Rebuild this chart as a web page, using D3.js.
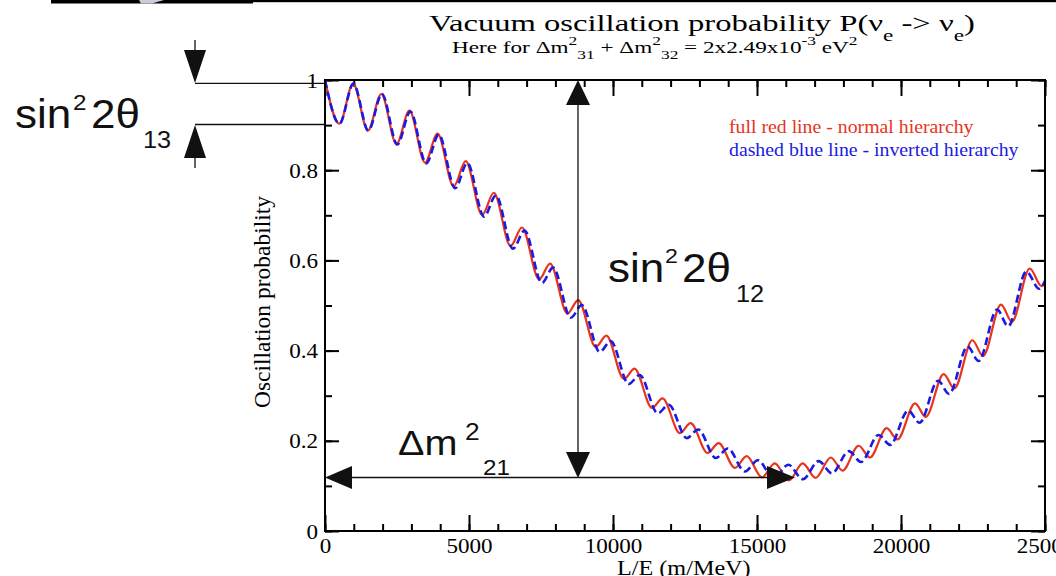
<!DOCTYPE html>
<html>
<head>
<meta charset="utf-8">
<title>Vacuum oscillation probability</title>
<script src="https://d3js.org/d3.v7.min.js"></script>
<style>
  body { margin: 0; background: #fff; }
  svg { display: block; }
</style>
</head>
<body>
<div id="chart"></div>
<script>
// turning points of the curves (L/E in m/MeV, probability)
const nhL = [0, 497, 977, 1490, 1954, 2482, 2931, 3473, 3908, 4466, 4885, 5457, 5861, 6444, 6839, 7433, 7816, 8418, 8792, 9400,
  9769, 10381, 10745, 11356, 11720, 12324, 12694, 13285, 13669, 14235, 14643, 15173, 15615, 16107, 16587, 17034, 17561, 17971,
  18530, 18919, 19504, 19875, 20488, 20859, 21482, 21852, 22477, 22850, 23472, 23852, 24469, 24880, 25000];
const nhP = [1.000, 0.903, 0.992, 0.888, 0.969, 0.858, 0.932, 0.817, 0.881, 0.764, 0.820, 0.701, 0.750, 0.632, 0.673, 0.558, 0.593,
  0.482, 0.512, 0.408, 0.433, 0.337, 0.360, 0.273, 0.294, 0.217, 0.239, 0.173, 0.195, 0.140, 0.166, 0.119, 0.150, 0.112, 0.150,
  0.118, 0.163, 0.134, 0.189, 0.163, 0.228, 0.203, 0.283, 0.253, 0.348, 0.316, 0.423, 0.388, 0.502, 0.464, 0.582, 0.543, 0.550];

const ihL = [0, 502, 988, 1506, 1977, 2511, 2965, 3514, 3953, 4518, 4943, 5522, 5934, 6525, 6928, 7531, 7922, 8534, 8919, 9540,
  9920, 10546, 10925, 11554, 11936, 12562, 12958, 13570, 13988, 14576, 15033, 15582, 16086, 16592, 17142, 17602, 18187, 18614,
  19221, 19623, 20250, 20645, 21284, 21672, 22311, 22698, 23333, 23722, 24351, 24800, 25000];
const ihP = [1.000, 0.903, 0.992, 0.888, 0.969, 0.857, 0.930, 0.815, 0.879, 0.760, 0.816, 0.697, 0.744, 0.626, 0.666, 0.550, 0.584,
  0.473, 0.501, 0.397, 0.421, 0.326, 0.346, 0.261, 0.280, 0.206, 0.225, 0.162, 0.183, 0.132, 0.157, 0.116, 0.147, 0.115, 0.155,
  0.128, 0.177, 0.153, 0.213, 0.191, 0.267, 0.240, 0.333, 0.304, 0.409, 0.377, 0.491, 0.454, 0.575, 0.537, 0.555];

const xTicks = [0, 5000, 10000, 15000, 20000, 25000];
const xTickLabels = ["0", "5000", "10000", "15000", "20000", "25000"];
const yTicks = [0, 0.2, 0.4, 0.6, 0.8, 1];
const yTickLabels = ["0", "0.2", "0.4", "0.6", "0.8", "1"];

const W = 1056, H = 576;
const box = { left: 325, right: 1045, top: 80, bottom: 531 };
const serif = "'Liberation Serif', 'Times New Roman', serif";
const sans = "'Liberation Sans', Arial, sans-serif";
const sx = 1.1; // the plot picture is stretched sideways

const svg = d3.select("#chart").append("svg")
    .attr("width", W)
    .attr("height", H);

const x = d3.scaleLinear().domain([0, 25000]).range([box.left, box.right]);
const y = d3.scaleLinear().domain([0, 1]).range([box.bottom, box.top]);

// black strip at the very top
svg.append("rect").attr("x", 51).attr("y", 0).attr("width", 202).attr("height", 3.5).attr("fill", "#000");
svg.append("rect").attr("x", 253).attr("y", 0).attr("width", 803).attr("height", 2.2).attr("fill", "#000");
svg.append("path").attr("d", "M139,0 L164,0 L152,3.5 L141,3.5 Z").attr("fill", "#c8cbd8");

// ticks, all pointing inside the frame
const minorX = d3.range(0, 25001, 1000);
const minorY = d3.range(0, 1.001, 0.1);
function tickGroup(axis, tx, ty) {
  const g = svg.append("g").attr("transform", `translate(${tx},${ty})`).call(axis);
  g.select(".domain").remove();
  g.selectAll("line").attr("stroke", "#000").attr("stroke-width", 2);
  return g;
}
tickGroup(d3.axisBottom(x).tickValues(minorX).tickSize(-7).tickFormat(""), 0, box.bottom);
tickGroup(d3.axisBottom(x).tickValues(xTicks).tickSize(-16).tickFormat(""), 0, box.bottom);
tickGroup(d3.axisTop(x).tickValues(minorX).tickSize(-7).tickFormat(""), 0, box.top);
tickGroup(d3.axisTop(x).tickValues(xTicks).tickSize(-16).tickFormat(""), 0, box.top);
tickGroup(d3.axisLeft(y).tickValues(minorY).tickSize(-7).tickFormat(""), box.left, 0);
tickGroup(d3.axisLeft(y).tickValues(yTicks).tickSize(-14).tickFormat(""), box.left, 0);
tickGroup(d3.axisRight(y).tickValues(minorY).tickSize(-7).tickFormat(""), box.right, 0);
tickGroup(d3.axisRight(y).tickValues(yTicks).tickSize(-14).tickFormat(""), box.right, 0);

// tick labels
const xl = svg.append("g").attr("transform", `translate(0,${box.bottom})`)
    .call(d3.axisBottom(x).tickValues(xTicks).tickSize(0).tickFormat((d, i) => xTickLabels[i]));
xl.select(".domain").remove();
xl.selectAll("text")
    .attr("y", 22).attr("dy", null)
    .attr("transform", `scale(${sx},1)`)
    .style("font-family", serif).style("font-size", "21px").attr("fill", "#000");

const yl = svg.append("g").attr("transform", `translate(${box.left},0)`)
    .call(d3.axisLeft(y).tickValues(yTicks).tickSize(0).tickFormat((d, i) => yTickLabels[i]));
yl.select(".domain").remove();
yl.selectAll("text")
    .attr("x", -7 / sx).attr("dy", "0.34em")
    .attr("transform", `scale(${sx},1)`)
    .style("font-family", serif).style("font-size", "21px").attr("fill", "#000");

// curves
const line = d3.line()
    .x(d => x(d[0]))
    .y(d => y(d[1]))
    .curve(d3.curveMonotoneX);

svg.append("path")
    .datum(d3.zip(nhL, nhP))
    .attr("d", line)
    .attr("fill", "none")
    .attr("stroke", "#e8331e")
    .attr("stroke-width", 2.2);

svg.append("path")
    .datum(d3.zip(ihL, ihP))
    .attr("d", line)
    .attr("fill", "none")
    .attr("stroke", "#1a1ae0")
    .attr("stroke-width", 2.6)
    .attr("stroke-dasharray", "8,4");

// frame
svg.append("rect")
    .attr("x", box.left).attr("y", box.top)
    .attr("width", box.right - box.left).attr("height", box.bottom - box.top)
    .attr("fill", "none").attr("stroke", "#000").attr("stroke-width", 2);

// texts of the plot
function stretched(tx, ty, size, color, k) {
  return svg.append("text")
      .attr("transform", `translate(${tx},${ty}) scale(${k || sx},1)`)
      .style("font-family", serif).style("font-size", size + "px")
      .attr("fill", color || "#000");
}

const title = stretched(429, 31, 24, "#000", 1.36);
title.append("tspan").text("Vacuum oscillation probability P(\u03bd");
title.append("tspan").attr("dy", 10).style("font-size", "17px").text("e");
title.append("tspan").attr("dy", -10).text(" -> \u03bd");
title.append("tspan").attr("dy", 10).style("font-size", "17px").text("e");
title.append("tspan").attr("dy", -10).text(")");

const sub = stretched(452, 53, 16, "#000", 1.45);
sub.append("tspan").text("Here for \u0394m");
sub.append("tspan").attr("dy", -8).style("font-size", "12px").text("2");
sub.append("tspan").attr("dy", 14).style("font-size", "12px").text("31");
sub.append("tspan").attr("dy", -6).text(" + \u0394m");
sub.append("tspan").attr("dy", -8).style("font-size", "12px").text("2");
sub.append("tspan").attr("dy", 14).style("font-size", "12px").text("32");
sub.append("tspan").attr("dy", -6).text(" = 2x2.49x10");
sub.append("tspan").attr("dy", -8).style("font-size", "12px").text("-3");
sub.append("tspan").attr("dy", 8).text(" eV");
sub.append("tspan").attr("dy", -8).style("font-size", "12px").text("2");

stretched(729, 133, 18, "#e8331e").text("full red line - normal hierarchy");
stretched(729, 156, 18, "#1a1ae0").text("dashed blue line - inverted hierarchy");

svg.append("text")
    .attr("transform", "translate(270,302) rotate(-90)")
    .attr("text-anchor", "middle")
    .style("font-family", serif).style("font-size", "23.5px")
    .text("Oscillation probability");

stretched(617, 575, 22).text("L/E (m/MeV)");

// annotations drawn over the plot
const ink = "#111";
function seg(x1, y1, x2, y2) {
  svg.append("line").attr("x1", x1).attr("y1", y1).attr("x2", x2).attr("y2", y2)
      .attr("stroke", ink).attr("stroke-width", 1.3);
}
function head(pts) {
  svg.append("path").attr("d", "M" + pts.map(p => p.join(",")).join("L") + "Z").attr("fill", ink);
}

seg(195, 40, 195, 60);
head([[184, 50], [206, 50], [195, 83]]);
seg(195, 83.3, box.left, 83.3);
seg(195, 124.5, box.left, 124.5);
head([[184, 158], [206, 158], [195, 125]]);
seg(195, 150, 195, 168);

seg(578, 100, 578, 458);
head([[566, 105], [590, 105], [578, 80]]);
head([[566, 452], [590, 452], [578, 478]]);

seg(345, 477.5, 772, 477.5);
head([[352, 466], [352, 489], [325, 477.5]]);
head([[767, 466], [767, 489], [795, 477.5]]);

function bigText(tx, ty, size, s) {
  svg.append("text")
      .attr("transform", `translate(${tx},${ty}) scale(1.1,1)`)
      .style("font-family", sans).style("font-size", size + "px")
      .attr("fill", ink).text(s);
}
bigText(15, 128, 40, "sin");
bigText(73, 110, 22, "2");
bigText(91, 128, 40, "2\u03b8");
bigText(143, 148, 23, "13");

bigText(608, 282, 40, "sin");
bigText(665, 263, 21, "2");
bigText(682, 282, 40, "2\u03b8");
bigText(736, 302, 23, "12");

bigText(398, 455, 36, "\u0394m");
bigText(465, 440, 24, "2");
bigText(483, 475, 22, "21");
</script>
</body>
</html>
